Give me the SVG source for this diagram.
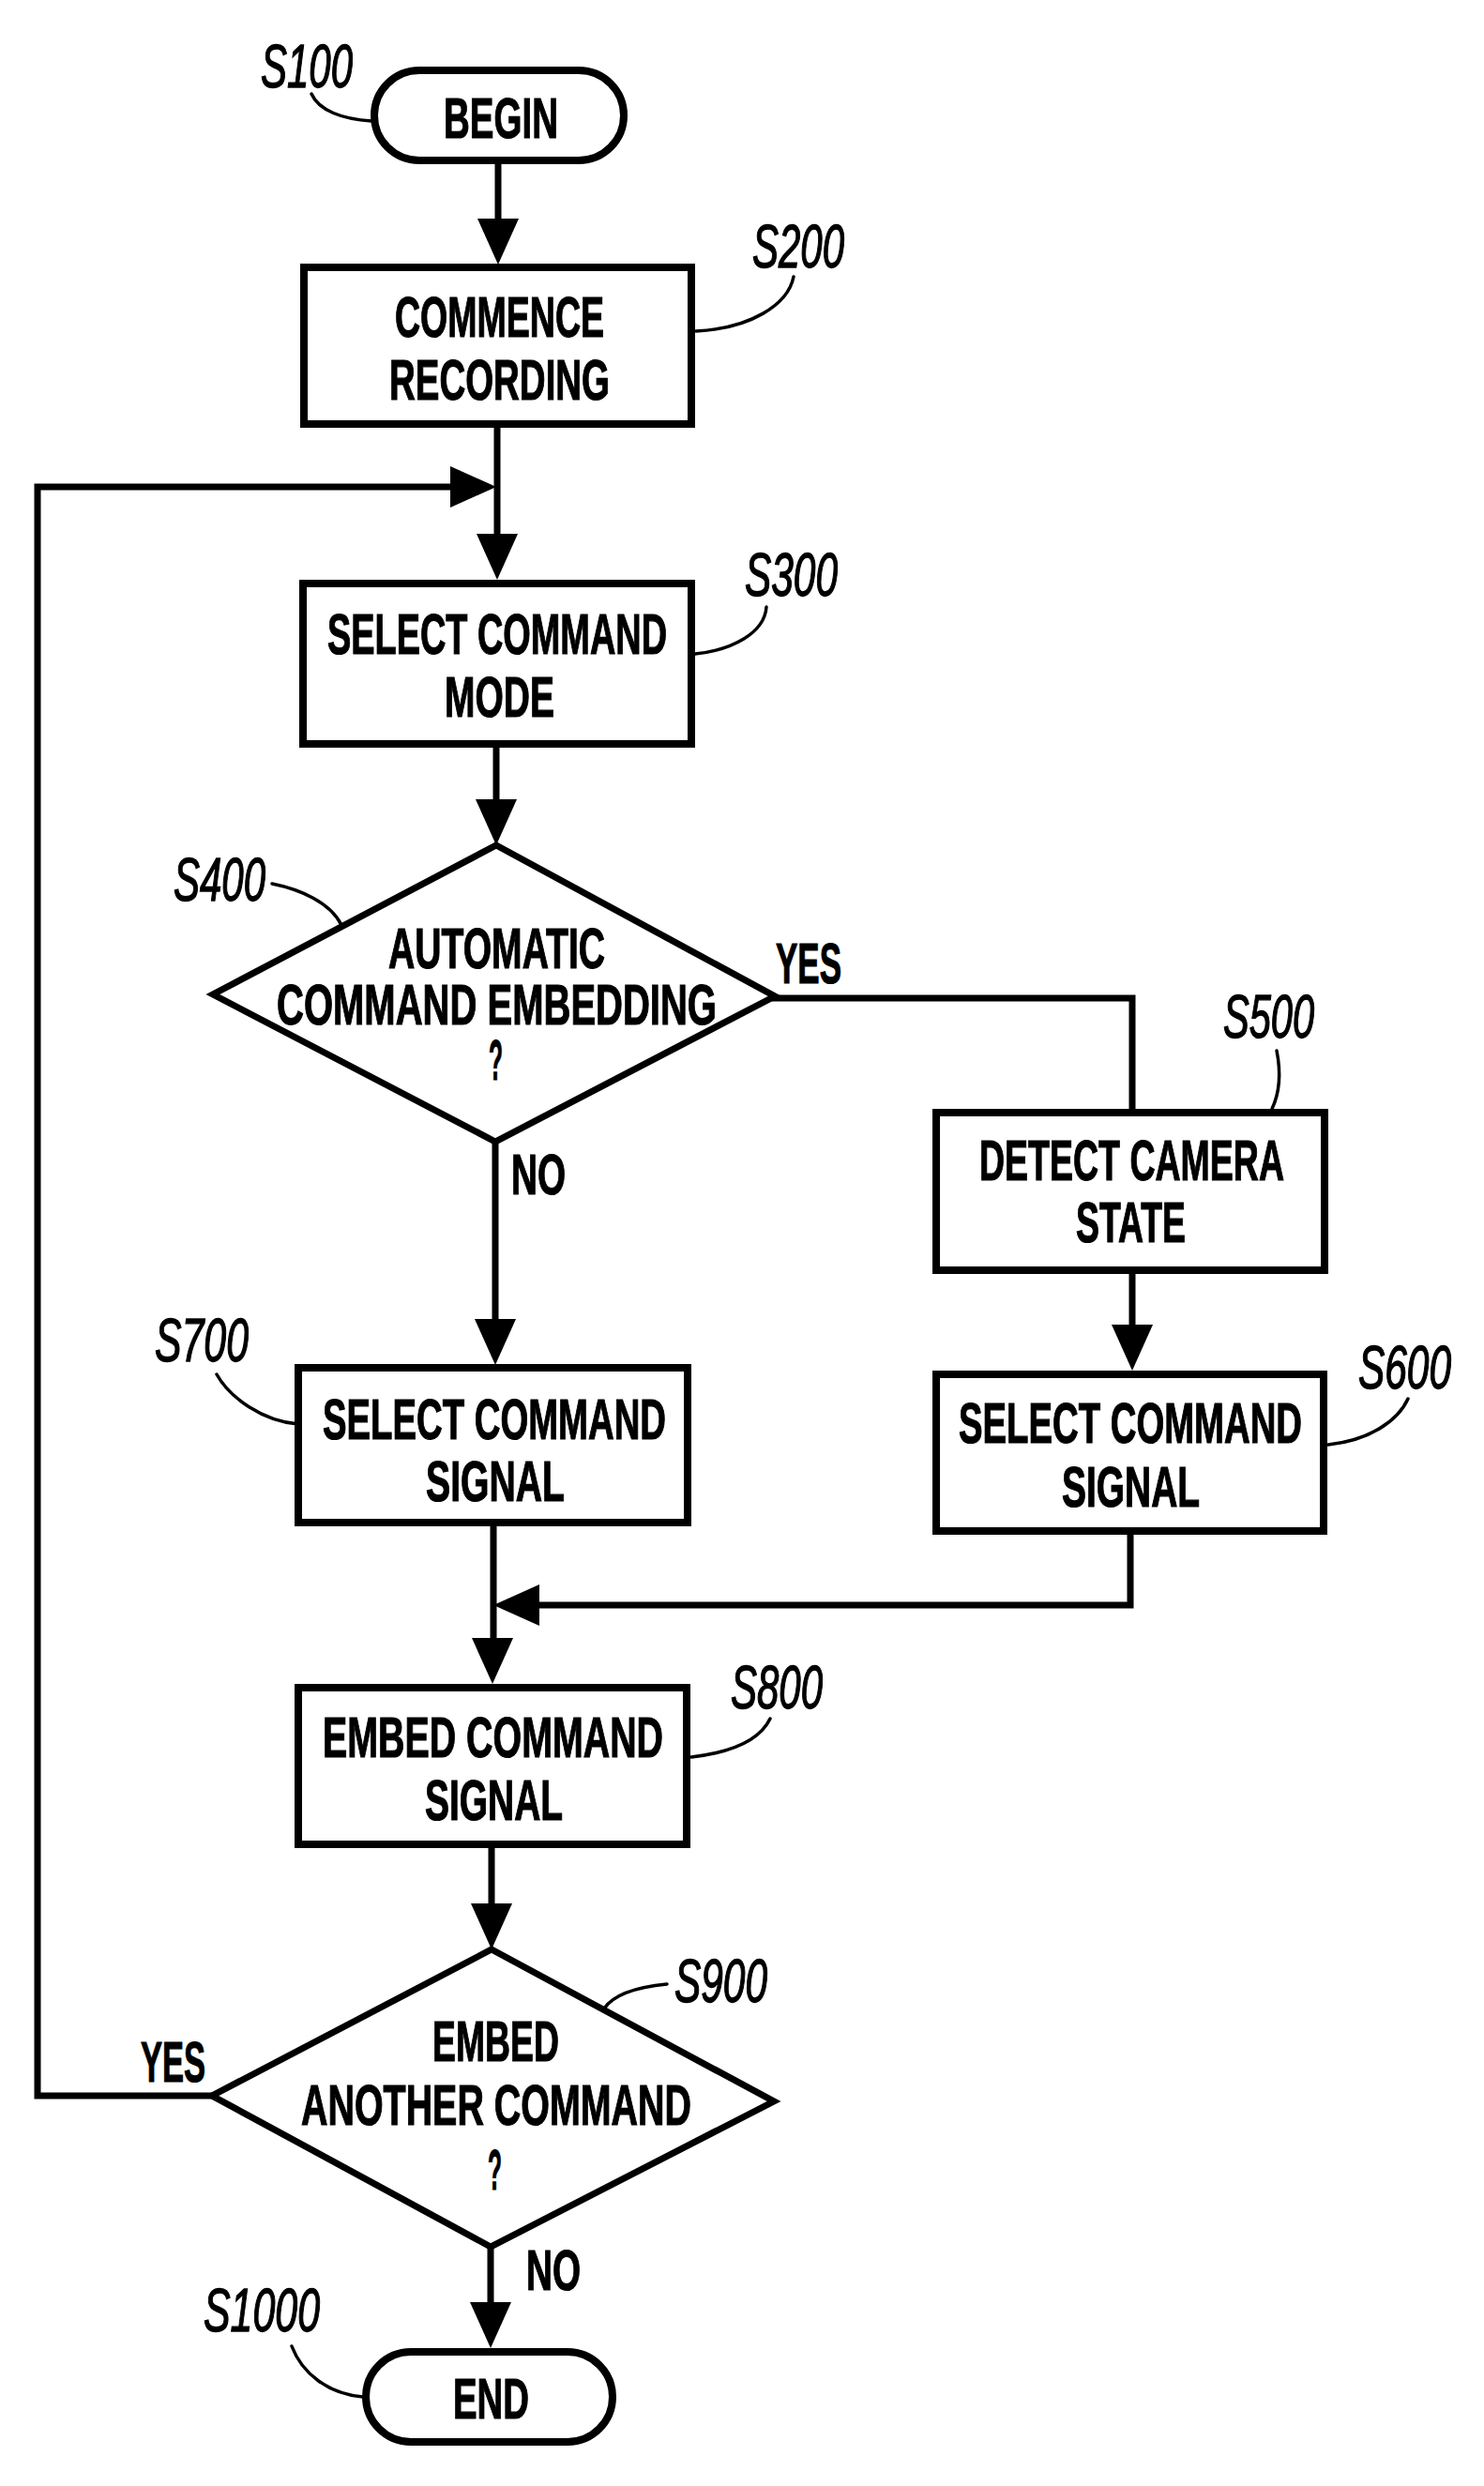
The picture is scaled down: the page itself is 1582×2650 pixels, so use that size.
<svg xmlns="http://www.w3.org/2000/svg" xmlns:xlink="http://www.w3.org/1999/xlink" width="1582" height="2650" viewBox="0 0 1582 2650">
<style>
.box{fill:#fff;stroke:#000;stroke-width:8}
.ln{fill:none;stroke:#000;stroke-width:7;stroke-linecap:square;stroke-linejoin:miter}
.ah{fill:#000;stroke:none}
.ld{fill:none;stroke:#000;stroke-width:3.5;stroke-linecap:round}
.t{font-family:"Liberation Sans",Arial,sans-serif;font-weight:bold;font-size:62px;fill:#000;stroke:#000;stroke-width:1.2}
.lb{font-family:"Liberation Sans",Arial,sans-serif;font-style:italic;font-size:64px;fill:#000;stroke:#000;stroke-width:1.4}
</style>
<defs>
<path id="ahD" class="ah" d="M-22,-49 L0,0 L22,-49 Z"/>
</defs>
<rect width="1582" height="2650" fill="#fff"/>

<g id="connectors">
<line class="ln" x1="531" y1="175" x2="531" y2="240"/>
<use href="#ahD" x="531" y="282"/>
<line class="ln" x1="530" y1="456" x2="530" y2="580"/>
<polyline class="ln" points="226,2234 40,2234 40,519 485,519"/>
<use href="#ahD" transform="translate(529,519) rotate(-90)"/>
<use href="#ahD" x="530" y="618"/>
<line class="ln" x1="529" y1="797" x2="529" y2="860"/>
<use href="#ahD" x="529" y="901"/>
<polyline class="ln" points="826,1064 1207,1064 1207,1182"/>
<line class="ln" x1="528" y1="1217" x2="528" y2="1415"/>
<use href="#ahD" x="528" y="1455"/>
<line class="ln" x1="1207" y1="1358" x2="1207" y2="1420"/>
<use href="#ahD" x="1207" y="1461"/>
<polyline class="ln" points="1205,1636 1205,1711 570,1711"/>
<use href="#ahD" transform="translate(526,1711) rotate(90)"/>
<line class="ln" x1="526" y1="1627" x2="526" y2="1755"/>
<use href="#ahD" x="525" y="1795"/>
<line class="ln" x1="524" y1="1970" x2="524" y2="2035"/>
<use href="#ahD" x="524" y="2078"/>
<line class="ln" x1="523" y1="2395" x2="523" y2="2462"/>
<use href="#ahD" x="523" y="2503"/>
<text class="t" x="827" y="1048" textLength="70" lengthAdjust="spacingAndGlyphs">YES</text>
<text class="t" x="545" y="1273" textLength="58" lengthAdjust="spacingAndGlyphs">NO</text>
<text class="t" x="150" y="2219" textLength="69" lengthAdjust="spacingAndGlyphs">YES</text>
<text class="t" x="561" y="2441" textLength="58" lengthAdjust="spacingAndGlyphs">NO</text>
</g>

<g id="S100">
<rect class="box" x="399" y="75" width="266" height="96" rx="48" ry="48"/>
<text class="t" x="473" y="147" textLength="122" lengthAdjust="spacingAndGlyphs">BEGIN</text>
<path class="ld" d="M332,100 C340,118 365,127 396,129"/>
<text class="lb" x="278" y="93" textLength="98" lengthAdjust="spacingAndGlyphs">S100</text>
</g>

<g id="S200">
<rect class="box" x="324" y="285" width="413" height="167"/>
<text class="t" x="421" y="359" textLength="223" lengthAdjust="spacingAndGlyphs">COMMENCE</text>
<text class="t" x="415" y="426" textLength="235" lengthAdjust="spacingAndGlyphs">RECORDING</text>
<path class="ld" d="M846,295 C840,325 800,350 742,353"/>
<text class="lb" x="802" y="285" textLength="98" lengthAdjust="spacingAndGlyphs">S200</text>
</g>

<g id="S300">
<rect class="box" x="323" y="622" width="414" height="171"/>
<text class="t" x="349" y="697" textLength="362" lengthAdjust="spacingAndGlyphs">SELECT COMMAND</text>
<text class="t" x="474" y="764" textLength="117" lengthAdjust="spacingAndGlyphs">MODE</text>
<path class="ld" d="M817,647 C815,675 780,693 741,697"/>
<text class="lb" x="794" y="635" textLength="99" lengthAdjust="spacingAndGlyphs">S300</text>
</g>

<g id="S400">
<polygon class="box" style="stroke-width:7" points="529,901 826,1062 528,1217 227,1060"/>
<text class="t" x="414" y="1032" textLength="231" lengthAdjust="spacingAndGlyphs">AUTOMATIC</text>
<text class="t" x="295" y="1092" textLength="469" lengthAdjust="spacingAndGlyphs">COMMAND EMBEDDING</text>
<text class="t" x="521" y="1151" textLength="15" lengthAdjust="spacingAndGlyphs">?</text>
<path class="ld" d="M290,942 C320,948 352,962 364,986"/>
<text class="lb" x="185" y="960" textLength="98" lengthAdjust="spacingAndGlyphs">S400</text>
</g>

<g id="S500">
<rect class="box" x="998" y="1186" width="414" height="168"/>
<text class="t" x="1044" y="1258" textLength="325" lengthAdjust="spacingAndGlyphs">DETECT CAMERA</text>
<text class="t" x="1147" y="1324" textLength="117" lengthAdjust="spacingAndGlyphs">STATE</text>
<path class="ld" d="M1361,1120 C1366,1145 1364,1165 1356,1182"/>
<text class="lb" x="1304" y="1106" textLength="97" lengthAdjust="spacingAndGlyphs">S500</text>
</g>

<g id="S600">
<rect class="box" x="998" y="1465" width="413" height="167"/>
<text class="t" x="1022" y="1538" textLength="366" lengthAdjust="spacingAndGlyphs">SELECT COMMAND</text>
<text class="t" x="1132" y="1606" textLength="147" lengthAdjust="spacingAndGlyphs">SIGNAL</text>
<path class="ld" d="M1501,1491 C1490,1515 1460,1535 1416,1540"/>
<text class="lb" x="1448" y="1480" textLength="99" lengthAdjust="spacingAndGlyphs">S600</text>
</g>

<g id="S700">
<rect class="box" x="318" y="1458" width="415" height="165"/>
<text class="t" x="344" y="1534" textLength="366" lengthAdjust="spacingAndGlyphs">SELECT COMMAND</text>
<text class="t" x="454" y="1600" textLength="148" lengthAdjust="spacingAndGlyphs">SIGNAL</text>
<path class="ld" d="M231,1465 C245,1490 280,1515 318,1518"/>
<text class="lb" x="165" y="1451" textLength="100" lengthAdjust="spacingAndGlyphs">S700</text>
</g>

<g id="S800">
<rect class="box" x="318" y="1799" width="414" height="167"/>
<text class="t" x="344" y="1873" textLength="363" lengthAdjust="spacingAndGlyphs">EMBED COMMAND</text>
<text class="t" x="453" y="1940" textLength="147" lengthAdjust="spacingAndGlyphs">SIGNAL</text>
<path class="ld" d="M821,1832 C810,1855 780,1868 737,1873"/>
<text class="lb" x="779" y="1821" textLength="98" lengthAdjust="spacingAndGlyphs">S800</text>
</g>

<g id="S900">
<polygon class="box" style="stroke-width:7" points="524,2078 825,2240 523,2395 226,2234"/>
<text class="t" x="461" y="2197" textLength="135" lengthAdjust="spacingAndGlyphs">EMBED</text>
<text class="t" x="321" y="2265" textLength="416" lengthAdjust="spacingAndGlyphs">ANOTHER COMMAND</text>
<text class="t" x="520" y="2334" textLength="15" lengthAdjust="spacingAndGlyphs">?</text>
<path class="ld" d="M711,2115 C680,2118 655,2125 644,2141"/>
<text class="lb" x="719" y="2134" textLength="99" lengthAdjust="spacingAndGlyphs">S900</text>
</g>

<g id="S1000">
<rect class="box" x="390" y="2507" width="263" height="96" rx="48" ry="48"/>
<text class="t" x="483" y="2578" textLength="81" lengthAdjust="spacingAndGlyphs">END</text>
<path class="ld" d="M311,2501 C322,2530 350,2552 387,2555"/>
<text class="lb" x="217" y="2485" textLength="124" lengthAdjust="spacingAndGlyphs">S1000</text>
</g>
</svg>
